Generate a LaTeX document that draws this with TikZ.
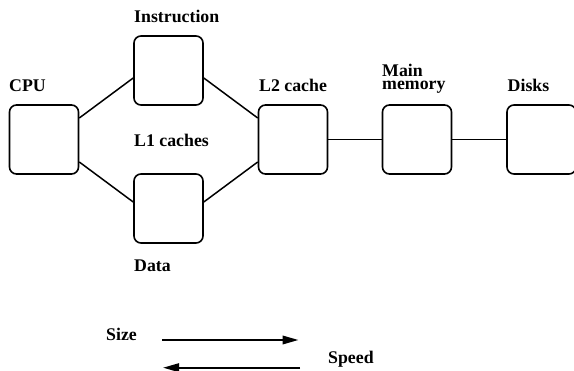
\documentclass[tikz,border=0pt]{standalone}
\usepackage{fontspec}
\setmainfont{Liberation Serif}
\usetikzlibrary{arrows.meta,calc}
\tikzset{
  unitbox/.style={draw, line width=1.6pt, rounded corners=7pt, minimum width=69pt, minimum height=69pt, inner sep=0pt},
  lbl/.style={anchor=base west, inner sep=0pt, font=\fontsize{17.8}{13}\selectfont\bfseries},
  link/.style={line width=1.5pt},
  arr/.style={line width=2pt, -{Triangle[length=16pt,width=8.5pt]}}
}
\begin{document}
\begin{tikzpicture}[x=1pt,y=-1pt]
\useasboundingbox (0,0) rectangle (574,371);
% boxes
\node[unitbox] (cpu) at (44,139.5) {};
\node[unitbox] (ins) at (168.5,70.5) {};
\node[unitbox] (dat) at (168.5,208.5) {};
\node[unitbox] (l2) at (293,139.5) {};
\node[unitbox] (mm) at (417,139.5) {};
\node[unitbox] (dk) at (541.5,139.5) {};
% labels
\node[lbl] (tcpu) at (9,91.5) {CPU};
\node[lbl] (tins) at (134,22.5) {Instruction};
\node[lbl] (tl1) at (134,146.5) {L1 caches};
\node[lbl] (tdat) at (134,271.5) {Data};
\node[lbl] (tl2) at (259,91.5) {L2 cache};
\node[lbl, align=left] (tmm) at (382,90) {Main\\memory};
\node[lbl] (tdk) at (507.5,91.5) {Disks};
\node[lbl] (tsize) at (106,340.5) {Size};
\node[lbl] (tspeed) at (328,364) {Speed};
% connectors
\draw[link] ($(cpu.east)+(0,-21.5)$) -- ($(ins.west)+(0,7.5)$);
\draw[link] ($(cpu.east)+(0,22.5)$) -- ($(dat.west)+(0,-6.5)$);
\draw[link] ($(ins.east)+(0,7.5)$) -- ($(l2.west)+(0,-21.5)$);
\draw[link] ($(dat.east)+(0,-6.5)$) -- ($(l2.west)+(0,22.5)$);
\draw[link] (l2.east) -- (mm.west);
\draw[link] (mm.east) -- (dk.west);
% arrows
\coordinate (a1) at (162,340);
\coordinate (a2) at (298.5,340);
\coordinate (b1) at (300,367.7);
\coordinate (b2) at (163,367.7);
\draw[arr] (a1) -- (a2);
\draw[arr] (b1) -- (b2);
\end{tikzpicture}
\end{document}
